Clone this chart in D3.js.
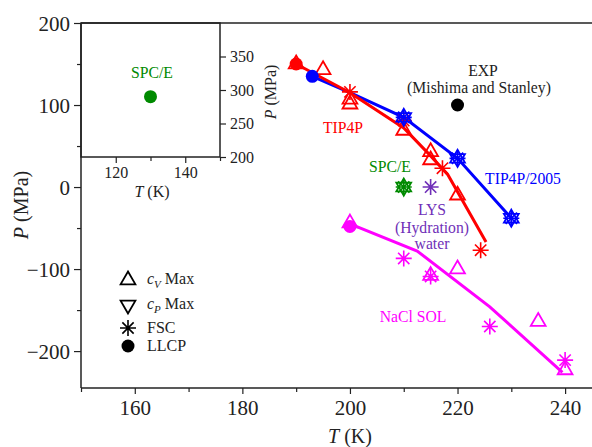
<!DOCTYPE html>
<html>
<head>
<meta charset="utf-8">
<script src="https://cdn.jsdelivr.net/npm/d3@7"></script>
<style>
  body { margin: 0; background: #fff; }
  text { font-family: "Liberation Serif", "Times New Roman", serif; }
</style>
</head>
<body>
<div id="chart"></div>
<script>
// data: [T (K), P (MPa)]
var tip4pLLCP = [[190, 150]];
var tip4pCv = [[190, 150], [195, 143], [200, 107], [200, 101], [210, 69], [215, 43], [215, 33], [220, -10]];
var tip4pFsc = [[200, 116], [210, 81], [217.2, 23], [224.3, -77]];
var tip4pCurve = [[190, 150], [200, 115], [210, 72], [215, 38], [218.2, 15], [225.3, -67]];

var tip2005LLCP = [[193, 135]];
var tip2005Cv = [[210, 85], [220, 35], [230, -38]];
var tip2005Cp = [[210, 85], [220, 35], [230, -38]];
var tip2005Fsc = [[210, 85], [220, 35], [230, -38]];
var tip2005Curve = [[193, 135], [200, 115], [210, 85], [220, 35], [230, -38]];

var spceCv = [[210, 0]];
var spceCp = [[210, 0]];
var spceFsc = [[210, 0]];
var lysFsc = [[215, 0]];
var expLLCP = [[220, 100]];

var naclLLCP = [[200, -48]];
var naclCv = [[200, -44], [215, -108], [220, -100], [235, -164], [240, -223]];
var naclFsc = [[210, -87], [215, -109], [226, -170], [240, -211]];
var naclCurve = [[200, -45], [212.5, -78], [226, -146], [239.5, -226]];

var insetLLCP = [[130, 290]];

var xTicks = [160, 180, 200, 220, 240];
var xMinor = [150, 170, 190, 210, 230];
var yTicks = [-200, -100, 0, 100, 200];
var yMinor = [-150, -50, 50, 150];
var insetXTicks = [120, 140];
var insetXMinor = [130, 150];
var insetYTicks = [200, 250, 300, 350];

var W = 592, H = 447;
var svg = d3.select("#chart").append("svg").attr("width", W).attr("height", H);

var x = d3.scaleLinear().domain([150, 245]).range([81, 592]);
var y = d3.scaleLinear().domain([-245, 200]).range([388, 23]);
var ix = d3.scaleLinear().domain([110, 150]).range([81, 220]);
var iy = d3.scaleLinear().domain([200, 400]).range([157, 23]);

var minus = function (d) { return d < 0 ? "\u2212" + Math.abs(d) : "" + d; };

//main axes
var gx = svg.append("g").attr("transform", "translate(0,388)")
  .call(d3.axisBottom(x).tickValues(xTicks).tickSize(6).tickPadding(6).tickFormat(minus));
svg.append("g").attr("transform", "translate(0,388)")
  .call(d3.axisBottom(x).tickValues(xMinor).tickSize(4).tickFormat(""));
var gy = svg.append("g").attr("transform", "translate(81,0)")
  .call(d3.axisLeft(y).tickValues(yTicks).tickSize(7).tickPadding(4).tickFormat(minus));
svg.append("g").attr("transform", "translate(81,0)")
  .call(d3.axisLeft(y).tickValues(yMinor).tickSize(4).tickFormat(""));
gx.selectAll("text").attr("font-size", 21).attr("fill", "#222");
gy.selectAll("text").attr("font-size", 21).attr("fill", "#222").attr("dy", "0.34em");
svg.selectAll("g").attr("font-family", null);

svg.append("text").attr("transform", "translate(28,205) rotate(-90)").attr("text-anchor", "middle")
  .attr("font-size", 20).attr("fill", "#222")
  .html('<tspan font-style="italic">P</tspan> (MPa)');
svg.append("text").attr("x", 350).attr("y", 443).attr("text-anchor", "middle")
  .attr("font-size", 20).attr("fill", "#222")
  .html('<tspan font-style="italic">T</tspan> (K)');

//inset
var igx = svg.append("g").attr("transform", "translate(0,157)")
  .call(d3.axisBottom(ix).tickValues(insetXTicks).tickSize(6).tickPadding(4));
svg.append("g").attr("transform", "translate(0,157)")
  .call(d3.axisBottom(ix).tickValues(insetXMinor).tickSize(4).tickFormat(""));
var igy = svg.append("g").attr("transform", "translate(220,0)")
  .call(d3.axisRight(iy).tickValues(insetYTicks).tickSize(6).tickPadding(4));
igx.selectAll("text").attr("font-size", 16).attr("fill", "#222");
igy.selectAll("text").attr("font-size", 16).attr("fill", "#222").attr("dy", "0.34em");
svg.selectAll("g").attr("font-family", null);
svg.selectAll(".domain").attr("stroke", "none");
svg.selectAll(".tick line").attr("stroke", "#222").attr("stroke-width", 1.2);

// frame lines
svg.append("rect").attr("x", 81).attr("y", 23).attr("width", 139).attr("height", 134)
  .attr("fill", "none").attr("stroke", "#222").attr("stroke-width", 1.5);
svg.append("line").attr("x1", 81).attr("x2", W).attr("y1", 23).attr("y2", 23).attr("stroke", "#222").attr("stroke-width", 1.5);
svg.append("line").attr("x1", 81).attr("x2", W).attr("y1", 388).attr("y2", 388).attr("stroke", "#222").attr("stroke-width", 1.5);
svg.append("line").attr("x1", 81).attr("x2", 81).attr("y1", 23).attr("y2", 388).attr("stroke", "#222").attr("stroke-width", 1.5);

svg.append("text").attr("x", 152).attr("y", 197).attr("text-anchor", "middle")
  .attr("font-size", 16).attr("fill", "#222")
  .html('<tspan font-style="italic">T</tspan> (K)');
svg.append("text").attr("transform", "translate(276,92) rotate(-90)").attr("text-anchor", "middle")
  .attr("font-size", 16).attr("fill", "#222")
  .html('<tspan font-style="italic">P</tspan> (MPa)');

//markers
var triUp = d3.symbol().type(d3.symbolTriangle).size(95)();
var starPath = function (r) {
  var p = "";
  [0, 45, 90, 135].forEach(function (a) {
    var c = Math.cos(a * Math.PI / 180) * r, s = Math.sin(a * Math.PI / 180) * r;
    p += "M" + (-c) + "," + (-s) + "L" + c + "," + s;
  });
  return p;
};

function line(data, color, sx, sy) {
  svg.append("path").datum(data)
    .attr("d", d3.line().x(function (d) { return sx(d[0]); }).y(function (d) { return sy(d[1]); }))
    .attr("fill", "none").attr("stroke", color).attr("stroke-width", 3);
}
function tri(data, color, down) {
  svg.selectAll(null).data(data).enter().append("path")
    .attr("d", triUp)
    .attr("transform", function (d) { return "translate(" + x(d[0]) + "," + y(d[1]) + ")" + (down ? " rotate(180)" : ""); })
    .attr("fill", "none").attr("stroke", color).attr("stroke-width", 1.8);
}
function star(data, color) {
  svg.selectAll(null).data(data).enter().append("path")
    .attr("d", starPath(8))
    .attr("transform", function (d) { return "translate(" + x(d[0]) + "," + y(d[1]) + ")"; })
    .attr("fill", "none").attr("stroke", color).attr("stroke-width", 1.6);
}
function dot(data, color, sx, sy) {
  svg.selectAll(null).data(data).enter().append("circle")
    .attr("cx", function (d) { return sx(d[0]); })
    .attr("cy", function (d) { return sy(d[1]); })
    .attr("r", 6.5).attr("fill", color);
}

var red = "#ff0000", blue = "#0000ff", green = "#008a00", purple = "#7030b8", mag = "#ff00ff";

line(tip2005Curve, blue, x, y);
line(tip4pCurve, red, x, y);
line(naclCurve, mag, x, y);

dot(tip4pLLCP, red, x, y);
tri(tip4pCv, red, false);
star(tip4pFsc, red);

dot(tip2005LLCP, blue, x, y);
tri(tip2005Cv, blue, false);
tri(tip2005Cp, blue, true);
star(tip2005Fsc, blue);

tri(spceCv, green, false);
tri(spceCp, green, true);
star(spceFsc, green);

star(lysFsc, purple);
dot(expLLCP, "#000", x, y);

dot(naclLLCP, mag, x, y);
tri(naclCv, mag, false);
star(naclFsc, mag);

dot(insetLLCP, green, ix, iy);

//labels
function label(tx, ty, str, color) {
  svg.append("text").attr("x", tx).attr("y", ty).attr("text-anchor", "middle")
    .attr("font-size", 15.7).attr("fill", color).text(str);
}
label(343, 133, "TIP4P", red);
label(523, 184, "TIP4P/2005", blue);
label(390, 172, "SPC/E", green);
label(483, 75.5, "EXP", "#222");
label(479, 92.5, "(Mishima and Stanley)", "#222");
label(432, 215, "LYS", purple);
label(432, 233, "(Hydration)", purple);
label(432, 249, "water", purple);
label(413, 322, "NaCl SOL", mag);
label(152, 78, "SPC/E", green);

//legend
var lg = svg.append("g");
lg.append("path").attr("d", triUp).attr("transform", "translate(128,280)")
  .attr("fill", "none").attr("stroke", "#000").attr("stroke-width", 1.8);
lg.append("path").attr("d", triUp).attr("transform", "translate(128,305) rotate(180)")
  .attr("fill", "none").attr("stroke", "#000").attr("stroke-width", 1.8);
lg.append("path").attr("d", starPath(8)).attr("transform", "translate(128,328)")
  .attr("fill", "none").attr("stroke", "#000").attr("stroke-width", 1.6);
lg.append("circle").attr("cx", 128).attr("cy", 346).attr("r", 6.5).attr("fill", "#000");
lg.append("text").attr("x", 147).attr("y", 284).attr("font-size", 16).attr("fill", "#222")
  .html('<tspan font-style="italic">c</tspan><tspan font-style="italic" font-size="11" dy="4">V</tspan><tspan dy="-4"> Max</tspan>');
lg.append("text").attr("x", 147).attr("y", 309).attr("font-size", 16).attr("fill", "#222")
  .html('<tspan font-style="italic">c</tspan><tspan font-style="italic" font-size="11" dy="4">P</tspan><tspan dy="-4"> Max</tspan>');
lg.append("text").attr("x", 147).attr("y", 333).attr("font-size", 16).attr("fill", "#222").text("FSC");
lg.append("text").attr("x", 147).attr("y", 351).attr("font-size", 16).attr("fill", "#222").text("LLCP");
</script>
</body>
</html>
